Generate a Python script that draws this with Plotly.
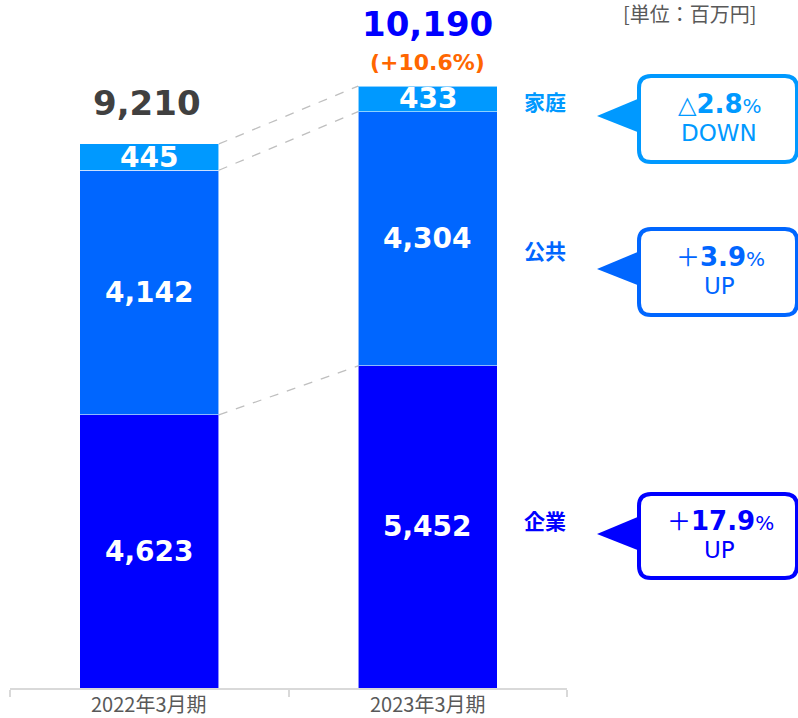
import plotly.graph_objects as go

# ---- data ----
categories = ["2022年3月期", "2023年3月期"]
segments = ["企業", "公共", "家庭"]
corp = [4623, 5452]
public = [4142, 4304]
home = [445, 433]
totals = [9210, 10190]
total_growth = "+10.6%"
seg_change = [17.9, 3.9, -2.8]
seg_dir = ["UP", "UP", "DOWN"]
unit_label = "[単位：百万円]"

# ---- styles ----
colors = ["#0000FF", "#0066FF", "#0099FF"]
W, H = 798, 718
ML, MR, MT, MB = 10, 231, 18, 30
PX_PER_UNIT = 0.05907
ymax = (H - MT - MB) / PX_PER_UNIT
LAT = "DejaVu Sans, Noto Sans CJK JP"
CJK = "Noto Sans CJK JP, DejaVu Sans"

def xp(px):
    return (px - ML) / (W - ML - MR)

def yp(py):
    return (H - MB - py) / (H - MT - MB)

fig = go.Figure()
series = [corp, public, home]
for name, vals, col in zip(segments, series, colors):
    fig.add_trace(go.Bar(
        x=categories, y=vals, name=name,
        marker=dict(color=col, line=dict(color="rgba(255,255,255,0.55)", width=1)),
        width=0.5, textposition="none", hoverinfo="x+y+name",
    ))

annotations = []
shapes = []

def pann(x, y, text, font):
    annotations.append(dict(x=xp(x), y=yp(y), xref="paper", yref="paper", text=text,
                            showarrow=False, xanchor="center", yanchor="middle", font=font))

# category labels (placed just under the axis)
for cat in categories:
    annotations.append(dict(x=cat, y=yp(703), xref="x", yref="paper", text=cat,
                            showarrow=False, xanchor="center", yanchor="middle",
                            font=dict(family=CJK, size=20, color="#595959")))

# segment value labels
for i, cat in enumerate(categories):
    base = 0
    for vals in series:
        v = vals[i]
        annotations.append(dict(
            x=cat, y=base + v / 2, xref="x", yref="y", text=f"<b>{v:,}</b>",
            showarrow=False, xanchor="center", yanchor="middle",
            font=dict(family=LAT, size=28, color="white")))
        base += v

# totals
annotations.append(dict(x=categories[0], y=totals[0], xref="x", yref="y",
                        text=f"<b>{totals[0]:,}</b>", showarrow=False, xanchor="center",
                        yanchor="middle", yshift=41, xshift=-2,
                        font=dict(family=LAT, size=34, color="#404040")))
annotations.append(dict(x=categories[1], y=totals[1], xref="x", yref="y",
                        text=f"<b>{totals[1]:,}</b>", showarrow=False, xanchor="center",
                        yanchor="middle", yshift=62,
                        font=dict(family=LAT, size=34, color="#0000FF")))
annotations.append(dict(x=categories[1], y=totals[1], xref="x", yref="y",
                        text=f"<b>({total_growth})</b>", showarrow=False, xanchor="center",
                        yanchor="middle", yshift=24,
                        font=dict(family=LAT, size=22, color="#FF6600")))

# dashed connector lines
cum0 = [corp[0], corp[0] + public[0], totals[0]]
cum1 = [corp[1], corp[1] + public[1], totals[1]]
for a, b in zip(cum0, cum1):
    shapes.append(dict(type="line", xref="x", yref="y", x0=0.25, x1=0.75, y0=a, y1=b,
                       line=dict(color="#BFBFBF", width=1.3, dash="dash")))

# callouts
callouts = [  # (segment index, label y, box top, box bottom, tip y)
    (2, 101, 76, 162, 116),
    (1, 250, 229, 315, 269),
    (0, 520, 494, 578, 534),
]
for si, ly, top, bot, tipy in callouts:
    col = colors[si]
    pann(545, ly, f"<b>{segments[si]}</b>", dict(family=CJK, size=21, color=col))
    L, R, r = 639, 797, 12
    path = (f"M {xp(L+r)},{yp(top)} L {xp(R-r)},{yp(top)} Q {xp(R)},{yp(top)} {xp(R)},{yp(top+r)} "
            f"L {xp(R)},{yp(bot-r)} Q {xp(R)},{yp(bot)} {xp(R-r)},{yp(bot)} "
            f"L {xp(L+r)},{yp(bot)} Q {xp(L)},{yp(bot)} {xp(L)},{yp(bot-r)} "
            f"L {xp(L)},{yp(top+r)} Q {xp(L)},{yp(top)} {xp(L+r)},{yp(top)} Z")
    shapes.append(dict(type="path", xref="paper", yref="paper", path=path,
                       fillcolor="white", line=dict(color=col, width=4)))
    tri = (f"M {xp(597)},{yp(tipy)} L {xp(L+1)},{yp(tipy-18)} L {xp(L+1)},{yp(tipy+17)} Z")
    shapes.append(dict(type="path", xref="paper", yref="paper", path=tri,
                       fillcolor=col, line=dict(color=col, width=0)))
    ch = seg_change[si]
    sign = "＋" if ch >= 0 else "△"
    line1 = (f"<span style='font-size:24px'>{sign}</span><b>{abs(ch):.1f}</b>"
             f"<span style='font-size:20px'>%</span>")
    cy = (top + bot) / 2
    pann(720, cy - 15, line1, dict(family=LAT, size=26, color=col))
    pann(719, cy + 14, seg_dir[si], dict(family=LAT, size=23, color=col))

# unit label (near the top edge)
pann(690, 14, unit_label, dict(family=CJK, size=20, color="#595959"))

fig.update_layout(
    width=W, height=H, barmode="stack", showlegend=False, bargap=0.5,
    margin=dict(l=ML, r=MR, t=MT, b=MB, autoexpand=False),
    plot_bgcolor="white", paper_bgcolor="white",
    annotations=annotations, shapes=shapes,
    xaxis=dict(type="category", range=[-0.5, 1.5], tickson="boundaries", ticks="outside",
               ticklen=7, tickcolor="#D9D9D9", tickwidth=2, showline=True, linecolor="#D9D9D9",
               linewidth=2, showgrid=False, automargin=False, showticklabels=False),
    yaxis=dict(range=[0, ymax], visible=False, showgrid=False, zeroline=False,
               automargin=False),
)
post = ("document.body.style.margin='0';"
        "document.documentElement.style.overflow='hidden';"
        "document.body.style.overflow='hidden';")
fig.write_html("out.html", config={"displayModeBar": False}, post_script=post)
